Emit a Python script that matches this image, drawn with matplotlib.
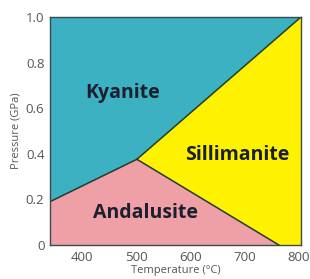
import matplotlib
matplotlib.use("Agg")
import matplotlib.pyplot as plt

# Phase boundaries (temperature °C, pressure GPa)
triple_point = (501, 0.376)
ky_and_start = (340, 0.19)
and_sil_end = (764, 0.0)
ky_sil_end = (805, 1.0)

x_ticks = [400, 500, 600, 700, 800]
y_ticks = [0, 0.2, 0.4, 0.6, 0.8, 1.0]
y_ticklabels = ["0", "0.2", "0.4", "0.6", "0.8", "1.0"]

phase_names = ["Kyanite", "Sillimanite", "Andalusite"]
phase_label_pos = [(475, 0.667), (686, 0.395), (516, 0.14)]

xmin, xmax = 340, 805
ymin, ymax = 0.0, 1.0

c_ky = "#3bb1c2"
c_sil = "#fff200"
c_and = "#ef9fa6"
c_line = "#243a2e"

plt.rcParams['font.family'] = ['Open Sans', 'DejaVu Sans']
fig = plt.figure(figsize=(3.10, 2.79), dpi=100)
ax = fig.add_axes([50/310, 1 - 245/279, 251/310, 228/279])

tp = triple_point
# Kyanite region
ax.fill([xmin, xmin, ky_and_start[0], tp[0], ky_sil_end[0], ky_sil_end[0]],
        [ymax, ky_and_start[1], ky_and_start[1], tp[1], ky_sil_end[1], ymax],
        color=c_ky, lw=0)
# Andalusite region
ax.fill([xmin, ky_and_start[0], tp[0], and_sil_end[0], xmin],
        [ymin, ky_and_start[1], tp[1], and_sil_end[1], ymin],
        color=c_and, lw=0)
# Sillimanite region
ax.fill([tp[0], ky_sil_end[0], xmax, and_sil_end[0]],
        [tp[1], ky_sil_end[1], ymin, and_sil_end[1]],
        color=c_sil, lw=0)

for p in (ky_and_start, and_sil_end, ky_sil_end):
    ax.plot([tp[0], p[0]], [tp[1], p[1]], color=c_line, lw=1.1)

for name, (x, y) in zip(phase_names, phase_label_pos):
    ax.text(x, y, name, ha="center", va="center", fontsize=14,
            fontweight="bold", color="#1c1f2e")

ax.set_xlim(xmin, xmax)
ax.set_ylim(ymin, ymax)
ax.set_xticks(x_ticks)
ax.set_yticks(y_ticks)
ax.set_yticklabels(y_ticklabels)
ax.tick_params(length=0, labelsize=9.5, colors="#555555", pad=4)
for s in ax.spines.values():
    s.set_color("#3a4a50")
    s.set_linewidth(1.0)
ax.set_xlabel("Temperature (°C)", fontsize=8, color="#555555", labelpad=1)
ax.set_ylabel("Pressure (GPa)", fontsize=8, color="#555555", labelpad=3)

fig.savefig("out.png", dpi=100)
